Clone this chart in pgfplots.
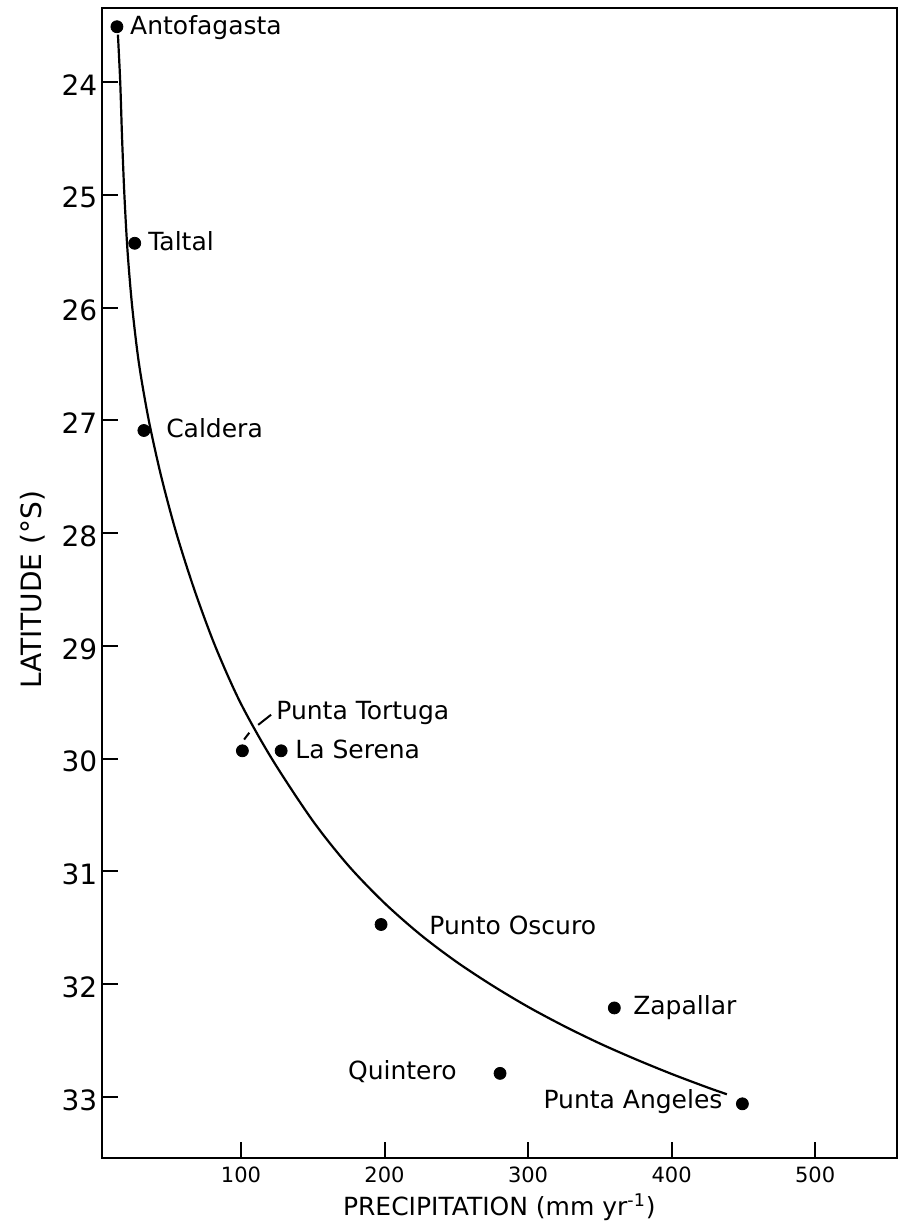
\documentclass[border=0pt]{standalone}
\usepackage{fontspec}
\setmainfont{DejaVu Sans}
\usepackage{pgfplots}
\pgfplotsset{compat=1.18}
\begin{document}
\begin{tikzpicture}
\begin{axis}[
  name=ax,
  scale only axis,
  width=397.65pt, height=574.75pt,
  xmin=3, xmax=557,
  ymin=23.344, ymax=33.536,
  y dir=reverse,
  xtick={100,200,300,400,500},
  ytick={24,25,26,27,28,29,30,31,32,33},
  tick align=inside,
  xtick pos=bottom, ytick pos=left,
  major tick length=8pt,
  axis line style={line width=1pt},
  tick style={line width=1pt, black},
  /pgf/number format/assume math mode=true,
  yticklabel style={font=\fontsize{14}{16}\selectfont, inner sep=0pt, xshift=-2pt, yshift=-1.5pt},
  xticklabel style={font=\fontsize{10.5}{12}\selectfont, inner sep=0pt, yshift=-4.5pt},
  xlabel={PRECIPITATION (mm yr\textsuperscript{-1})},
  ylabel={LATITUDE (°S)},
  xlabel style={font=\fontsize{12.5}{14}\selectfont, at={(axis description cs:0.5,0)}, anchor=north, inner sep=0pt, yshift=-18pt},
  ylabel style={font=\fontsize{14}{16}\selectfont, at={(axis description cs:-0.0864,0.4937)}, anchor=center, inner sep=0pt},
]
% fitted curve
\addplot[smooth, line width=1.1pt, black] coordinates {
(14.3,23.58) (15.9,24.0) (17.2,24.5) (18.8,25.0) (21.0,25.5) (24.3,26.0)
(29.0,26.5) (35.8,27.0) (44.5,27.5) (55,28.0) (67.5,28.5) (82,29.0)
(99.5,29.5) (121.5,30.0) (150,30.55) (175,30.95) (200,31.28) (225,31.56)
(250,31.80) (275,32.01) (300,32.20) (325,32.37) (350,32.525) (375,32.665)
(400,32.795) (425,32.915) (438.5,32.975)
};
% leader line Punta Tortuga
\addplot[line width=1pt, black] coordinates {(102.2,29.83) (105.8,29.77)};
\addplot[line width=1pt, black] coordinates {(112.0,29.70) (121.0,29.61)};
% stations
\addplot[only marks, mark=*, mark size=3pt, black] coordinates {
(13.6,23.51) (26,25.43) (32.4,27.09) (101,29.93) (128,29.93)
(197.6,31.47) (360.1,32.21) (280.5,32.79) (449.3,33.06)
};
\begin{scope}[every node/.style={font=\fontsize{12.5}{14}\selectfont, inner sep=0pt}]
\node[anchor=mid west] at (axis cs:22.6,23.53) {Antofagasta};
\node[anchor=mid west] at (axis cs:35.2,25.45) {Taltal};
\node[anchor=mid west] at (axis cs:47.7,27.1) {Caldera};
\node[anchor=mid west] at (axis cs:124.4,29.60) {Punta Tortuga};
\node[anchor=mid west] at (axis cs:137.6,29.95) {La Serena};
\node[anchor=mid west] at (axis cs:231,31.51) {Punto Oscuro};
\node[anchor=mid west] at (axis cs:373,32.22) {Zapallar};
\node[anchor=mid east] at (axis cs:250.5,32.80) {Quintero};
\node[anchor=mid east] at (axis cs:435.7,33.05) {Punta Angeles};
\end{scope}
\end{axis}
\pgfresetboundingbox
\path[use as bounding box] ([xshift=-50.85pt,yshift=-31.75pt]ax.south west) rectangle ([xshift=4.5pt,yshift=4pt]ax.north east);
\end{tikzpicture}
\end{document}
